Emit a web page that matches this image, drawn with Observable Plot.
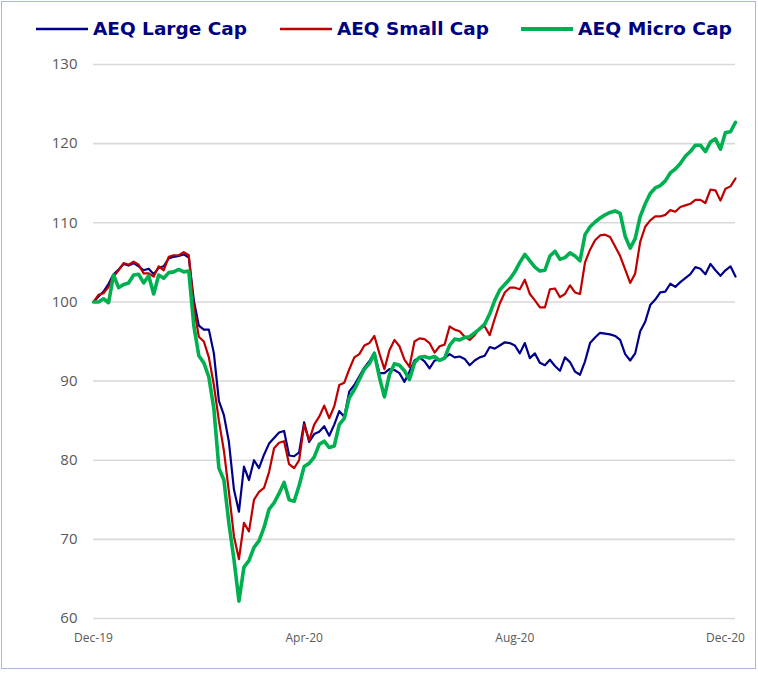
<!DOCTYPE html>
<html><head><meta charset="utf-8">
<script src="https://cdn.jsdelivr.net/npm/d3@7"></script>
<script src="https://cdn.jsdelivr.net/npm/@observablehq/plot@0.6"></script>
<style>
body{margin:0;background:#fff;}
#wrap{position:relative;width:758px;height:673px;overflow:hidden;background:#fff;}
#frame{position:absolute;left:1px;top:1px;width:753px;height:666px;border:1.5px solid #a3b9e0;pointer-events:none;}
#legend{position:absolute;left:0;top:0;}
#chart{position:absolute;left:0;top:40px;}
</style>
</head><body>
<div id="wrap"><div id="legend"></div><div id="chart"></div><div id="frame"></div></div>
<script>
// Series names and colours
const seriesNames = ["AEQ Large Cap", "AEQ Small Cap", "AEQ Micro Cap"];
const seriesColors = ["#00008b", "#c00000", "#00b050"];

// Tick labels on the category (trading-day) axis
const xTickDays = [0, 84, 168, 252];
const xTickLabels = ["Dec-19", "Apr-20", "Aug-20", "Dec-20"];
const yTicks = [60, 70, 80, 90, 100, 110, 120, 130];

// Values read every second trading day
const largeCap = [
  100, 100.7, 101.3, 102.3, 103.5, 104.1, 104.8, 104.6, 104.9, 104.5,
  104.0, 104.2, 103.5, 104.3, 104.5, 105.5, 105.7, 105.8, 106.0, 105.6,
  100.2, 97.0, 96.5, 96.5, 93.5, 87.5, 85.7, 82.3, 76.3, 73.5,
  79.2, 77.5, 80.0, 79.0, 80.7, 82.1, 82.8, 83.5, 83.7, 80.6,
  80.5, 81.0, 84.8, 82.3, 83.3, 83.6, 84.3, 83.1, 84.5, 86.2,
  85.5, 88.7, 89.5, 90.6, 91.7, 92.5, 93.6, 91.0, 91.0, 91.5,
  91.4, 91.0, 89.9, 91.2, 92.6, 93.0, 92.5, 91.6, 92.6, 92.7,
  92.9, 93.4, 93.0, 93.1, 92.8, 92.0, 92.6, 93.0, 93.2, 94.3,
  94.1, 94.5, 94.9, 94.8, 94.5, 93.5, 94.8, 92.9, 93.5, 92.3,
  92.0, 92.7, 91.9, 91.3, 93.0, 92.4, 91.2, 90.8, 92.5, 94.8,
  95.5, 96.1, 96.0, 95.9, 95.7, 95.2, 93.4, 92.6, 93.5, 96.3,
  97.5, 99.6, 100.3, 101.2, 101.3, 102.3, 101.9, 102.5, 103.0, 103.5,
  104.4, 104.2, 103.5, 104.8, 104.0, 103.3, 104.0, 104.5, 103.2
];
const smallCap = [
  100, 100.9, 101.1, 101.9, 103.2, 104.0, 104.9, 104.7, 105.1, 104.7,
  103.6, 103.6, 103.2, 104.5, 104.0, 105.7, 105.9, 105.9, 106.3, 105.9,
  99.4, 95.6, 95.0, 93.0, 89.5, 85.0, 81.2, 76.0, 70.4, 67.5,
  72.1, 71.0, 75.0, 76.0, 76.5, 78.5, 81.5, 82.2, 82.4, 79.5,
  79.0, 80.0, 84.5, 82.5, 84.5, 85.5, 86.9, 85.3, 86.8, 89.5,
  89.8, 91.5, 93.0, 93.4, 94.5, 94.8, 95.7, 93.5, 91.5, 93.9,
  95.2, 94.4, 92.7, 91.8, 95.0, 95.4, 95.3, 94.8, 93.6, 94.4,
  94.6, 96.9, 96.5, 96.3, 95.6, 95.2, 95.8, 96.7, 96.9, 95.8,
  97.9, 99.8, 101.2, 101.8, 101.8, 101.6, 102.8, 101.0, 100.2, 99.3,
  99.3, 101.6, 101.7, 100.6, 101.0, 102.1, 101.2, 101.0, 105.0, 106.6,
  107.8, 108.4, 108.5, 108.2, 107.0, 105.8, 104.1, 102.4, 103.6, 107.6,
  109.5, 110.3, 110.8, 110.8, 111.0, 111.6, 111.4, 112.0, 112.2, 112.4,
  112.9, 112.9, 112.5, 114.2, 114.1, 112.8, 114.3, 114.6, 115.6
];
const microCap = [
  100, 100, 100.4, 99.9, 103.4, 101.8, 102.2, 102.4, 103.4, 103.5,
  102.4, 103.3, 101.0, 103.4, 103.0, 103.7, 103.8, 104.1, 103.8, 103.9,
  97.0, 93.2, 92.3, 90.5, 86.5, 79.0, 77.5, 72.0, 67.5, 62.2,
  66.5, 67.3, 69.0, 69.8, 71.5, 73.8, 74.6, 75.8, 77.2, 75.0,
  74.8, 76.8, 79.2, 79.6, 80.4, 82.0, 82.4, 81.6, 81.8, 84.5,
  85.3, 87.9, 88.9, 90.2, 91.5, 92.2, 93.5, 90.5, 88.0, 90.8,
  92.2, 92.0, 91.3, 90.2, 92.3, 93.0, 93.1, 92.9, 93.1, 92.6,
  92.9, 94.5, 95.3, 95.2, 95.5, 95.6, 96.1, 96.6, 97.2, 98.5,
  100.2, 101.5, 102.2, 102.9, 103.8, 105.0, 106.0, 105.2, 104.4, 103.9,
  104.0, 105.8, 106.4, 105.4, 105.6, 106.2, 105.8, 105.2, 108.5, 109.5,
  110.1, 110.6, 111.0, 111.3, 111.5, 111.2, 108.3, 106.8, 108.0, 110.8,
  112.4, 113.7, 114.4, 114.7, 115.3, 116.3, 116.8, 117.5, 118.4, 119.0,
  119.8, 119.8, 119.0, 120.2, 120.6, 119.3, 121.4, 121.5, 122.7
];

const allSeries = [largeCap, smallCap, microCap];
const rows = allSeries.flatMap((vals, s) =>
  vals.map((v, i) => ({series: seriesNames[s], day: i * 2, value: v})));

// Legend (above the chart)
const legendItems = [
  {lx: 36, tx: 93, tw: 154, w: 2.5},
  {lx: 280, tx: 337, tw: 152, w: 2.5},
  {lx: 521, tx: 578, tw: 154, w: 4}
];
const lg = d3.select("#legend").append("svg").attr("width", 758).attr("height", 44);
legendItems.forEach((it, k) => {
  lg.append("line").attr("x1", it.lx).attr("x2", it.lx + 52).attr("y1", 29).attr("y2", 29)
    .attr("stroke", seriesColors[k]).attr("stroke-width", it.w);
  lg.append("text").attr("x", it.tx).attr("y", 29).attr("dy", "0.36em")
    .attr("font-family", "DejaVu Sans, sans-serif").attr("font-weight", "bold")
    .attr("font-size", 18).attr("fill", "#000080")
    .attr("textLength", it.tw).attr("lengthAdjust", "spacingAndGlyphs")
    .text(seriesNames[k]);
});

const chart = Plot.plot({
  width: 758,
  height: 620,
  marginLeft: 93,
  marginRight: 23,
  marginTop: 24,
  marginBottom: 42,
  style: {fontFamily: "'Open Sans', sans-serif", background: "transparent"},
  x: {type: "linear", domain: [0, 256], ticks: xTickDays,
      tickFormat: d => xTickLabels[xTickDays.indexOf(d)], label: null},
  y: {domain: [60, 130], ticks: yTicks, label: null},
  color: {domain: seriesNames, range: seriesColors},
  marks: [
    Plot.ruleY(yTicks, {stroke: "#d9d9d9", strokeWidth: 1.6}),
    Plot.axisX({ticks: xTickDays, tickFormat: d => xTickLabels[xTickDays.indexOf(d)],
      tickSize: 0, tickPadding: 15, fontSize: 12, color: "#595959", label: null}),
    Plot.axisY({ticks: yTicks, tickSize: 0, tickPadding: 16, fontSize: 15, color: "#595959", label: null}),
    Plot.line(rows.filter(d => d.series === seriesNames[0]),
      {x: "day", y: "value", stroke: seriesColors[0], strokeWidth: 2.2, strokeLinejoin: "round"}),
    Plot.line(rows.filter(d => d.series === seriesNames[1]),
      {x: "day", y: "value", stroke: seriesColors[1], strokeWidth: 2.2, strokeLinejoin: "round"}),
    Plot.line(rows.filter(d => d.series === seriesNames[2]),
      {x: "day", y: "value", stroke: seriesColors[2], strokeWidth: 3.6, strokeLinejoin: "round"})
  ]
});
document.getElementById("chart").appendChild(chart);
</script>
</body></html>
